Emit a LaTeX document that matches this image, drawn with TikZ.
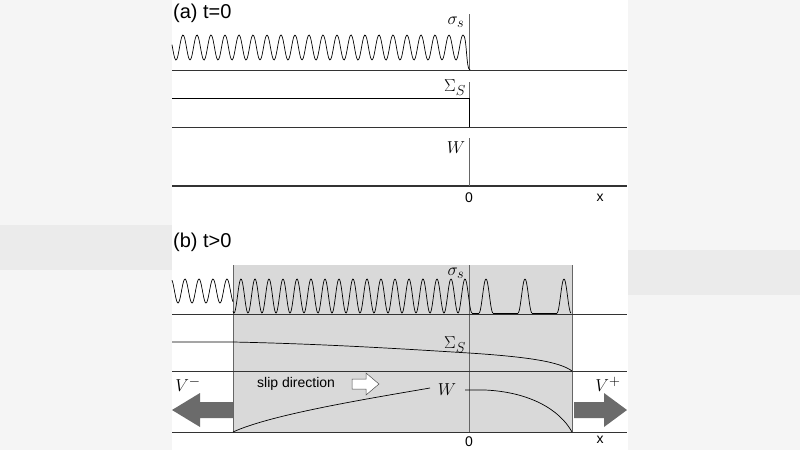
\documentclass[tikz,border=0pt]{standalone}
\usepackage{fontspec}
\newfontfamily\sans{Liberation Sans}
\begin{document}
\begin{tikzpicture}[x=1pt,y=-1pt,
  ax/.style={line width=0.7pt,black!80},
  thinv/.style={line width=0.5pt,black!60},
  curve/.style={line width=0.7pt,black},
  ttl/.style={font=\sans\fontsize{20}{20}\selectfont,anchor=west,inner sep=0},
  lab/.style={font=\fontsize{19}{19}\selectfont,inner sep=0},
  tick/.style={font=\sans\fontsize{14}{14}\selectfont,inner sep=0},
  bigarrow/.style={fill=black!58,draw=none},
]
\useasboundingbox (0,0) rectangle (800,450);
\fill[black!4] (0,0) rectangle (172,450);
\fill[black!4] (628,0) rectangle (800,450);
\fill[black!8] (0,225) rectangle (172,270);
\fill[black!8] (628,250) rectangle (800,295);
% panel a
\node[ttl] (ta) at (173,13) {(a) t=0};
\draw[ax] (172,70) -- (627,70);
\draw[ax] (172,127) -- (627,127);
\draw[line width=1.3pt,black!80] (172,186) -- (627,186);
\draw[thinv] (469,14) -- (469,70);
\draw[thinv] (469,82) -- (469,127);
\draw[thinv] (469,138) -- (469,186);
\draw[curve,smooth,samples=300,domain=172:463] plot (\x,{47.5-12.5*cos(25.7143*(\x-463))}) .. controls (467,35) and (466,70) .. (470,70);
\draw[curve] (172,98) -- (469,98) -- (469,127);
\node[lab] (sa) at (456,22) {$\sigma_s$};
\node[lab] (Sa) at (455,88) {$\Sigma_S$};
\node[lab] (Wa) at (456,148) {$W$};
\node[tick] (0a) at (469,198) {0};
\node[tick] (xa) at (600,198) {x};
% panel b
\node[ttl] (tb) at (173,242) {(b) t>0};
\fill[black!15] (233,265) rectangle (572,432);
\draw[thinv] (233,265) -- (233,432);
\draw[thinv] (572,265) -- (572,432);
\draw[thinv] (469,265) -- (469,432);
\draw[ax] (172,314) -- (627,314);
\draw[ax] (172,371) -- (627,371);
\draw[ax] (172,432) -- (627,432);
\draw[curve,smooth,samples=80,domain=172:233] plot (\x,{291-12*cos(25.7143*(\x-465))});
\draw[curve,smooth,samples=400,domain=233:472] plot (\x,{296-17*cos(25.7143*(\x-465))});
\draw[curve] (472,313) -- (479,313);
\foreach \c in {486,525,564}{
  \draw[curve,smooth,samples=30,domain={\c-7}:{\c+7}] plot (\x,{296-17*cos(25.7143*(\x-\c))});
}
\draw[curve] (493,313) -- (518,313) (532,313) -- (557,313);
\draw[curve] (172,342) -- (233,342) .. controls (330,344) and (420,350) .. (469,353) .. controls (530,357) and (560,362) .. (572,371);
\draw[curve] (233,432) .. controls (270,415) and (360,400) .. (430,388);
\draw[curve] (465,390) -- (485,390) .. controls (530,392) and (560,410) .. (572,432);
\node[lab] (Sb) at (455,345) {$\Sigma_S$};
\node[lab] (sb) at (456,273) {$\sigma_s$};
\node[lab] (Wb) at (447,390) {$W$};
\node[lab] (Vm) at (188,384) {$V^-$};
\node[lab] (Vp) at (608,384) {$V^+$};
\coordinate (al) at (233,410);
\coordinate (ar) at (572,410);
\fill[bigarrow] (al) ++(0,-8) -- ++(-33,0) -- ++(0,-9) -- (172,410) -- (200,427) -- ++(0,-9) -- ++(33,0) -- cycle;
\fill[bigarrow] (ar) ++(2,-8) -- ++(30,0) -- ++(0,-9) -- (627,410) -- (604,427) -- ++(0,-9) -- ++(-30,0) -- cycle;
\node[font=\sans\fontsize{14}{14}\selectfont,inner sep=0,anchor=west] (slip) at (257,384) {slip direction};
\coordinate (sa2) at (352,384);
\draw[black!70,fill=white,line width=0.5pt] (sa2) ++(0,-5) -- ++(14,0) -- ++(0,-6) -- (379,384) -- (366,395) -- ++(0,-6) -- ++(-14,0) -- cycle;
\node[tick] (0b) at (469,442) {0};
\node[tick] (xb) at (600,440) {x};
\end{tikzpicture}
\end{document}
